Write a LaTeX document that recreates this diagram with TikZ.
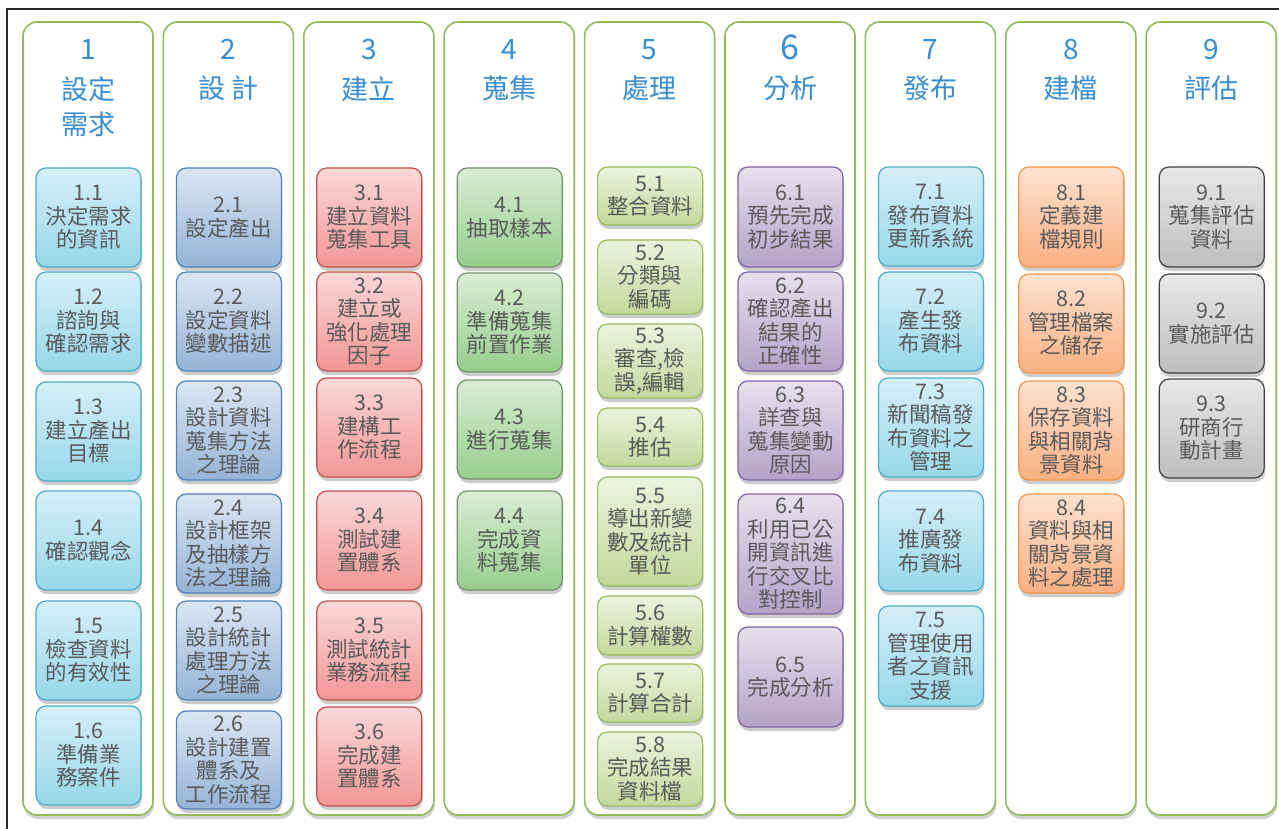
\documentclass[tikz,border=0pt]{standalone}
\usepackage{fontspec}
\setmainfont{Noto Sans CJK TC}
\usetikzlibrary{shadows}
\definecolor{hdr}{RGB}{56,142,208}
\definecolor{txt}{RGB}{90,90,90}
\definecolor{panel}{RGB}{150,184,92}
\definecolor{aquaT}{RGB}{214,239,247}\definecolor{aquaB}{RGB}{150,216,234}\definecolor{aquaD}{RGB}{75,172,198}
\definecolor{blueT}{RGB}{220,230,242}\definecolor{blueB}{RGB}{149,179,215}\definecolor{blueD}{RGB}{79,129,189}
\definecolor{redT}{RGB}{250,216,216}\definecolor{redB}{RGB}{242,150,150}\definecolor{redD}{RGB}{192,80,77}
\definecolor{grnT}{RGB}{218,237,212}\definecolor{grnB}{RGB}{150,206,140}\definecolor{grnD}{RGB}{115,145,105}
\definecolor{limT}{RGB}{236,243,224}\definecolor{limB}{RGB}{195,216,155}\definecolor{limD}{RGB}{155,187,89}
\definecolor{purT}{RGB}{230,225,238}\definecolor{purB}{RGB}{179,162,199}\definecolor{purD}{RGB}{128,100,162}
\definecolor{orgT}{RGB}{253,226,208}\definecolor{orgB}{RGB}{249,176,130}\definecolor{orgD}{RGB}{247,150,70}
\definecolor{gryT}{RGB}{232,232,232}\definecolor{gryB}{RGB}{190,190,190}\definecolor{gryD}{RGB}{64,64,64}
\tikzset{
  colpanel/.style={draw=panel, line width=1.6pt, fill=white, rounded corners=14pt,
    minimum width=130pt, minimum height=793pt, inner sep=0pt,
    drop shadow={shadow xshift=1pt, shadow yshift=-4pt, opacity=0.35}},
  hnum/.style={text=hdr, font=\fontsize{28}{30}\selectfont, anchor=base, inner sep=0pt},
  htitle/.style={text=hdr, font=\fontsize{27}{35}\selectfont, anchor=north, align=center, inner sep=0pt},
  task/.style={rounded corners=10pt, line width=1.2pt, minimum width=105pt, inner sep=0pt,
    align=center, text=txt, font=\fontsize{21.5}{23.5}\selectfont,
    drop shadow={shadow xshift=1pt, shadow yshift=-4pt, opacity=0.4}},
  aqua/.style={task, draw=aquaD, top color=aquaT, bottom color=aquaB},
  bluebox/.style={task, draw=blueD, top color=blueT, bottom color=blueB},
  redbox/.style={task, draw=redD, top color=redT, bottom color=redB},
  grnbox/.style={task, draw=grnD, top color=grnT, bottom color=grnB},
  limbox/.style={task, draw=limD, top color=limT, bottom color=limB},
  purbox/.style={task, draw=purD, top color=purT, bottom color=purB},
  orgbox/.style={task, draw=orgD, top color=orgT, bottom color=orgB},
  grybox/.style={task, draw=gryD, top color=gryT, bottom color=gryB},
}
% style, name, column, top, bottom, text
\newcommand\bx[6]{\node[#1, minimum height={(#5-#4)*1pt}] (#2) at ({23+140.4*(#3-1)+65.5},{(#4+#5)/2}) {#6};}
\newcommand\colp[4]{%
  \node[colpanel] (c#1) at ({23+140.4*(#1-1)+65},418.5) {};
  \node[hnum#4] (n#1) at ({23+140.4*(#1-1)+65},60) {#1};
  \node[htitle] (t#1) at ({23+140.4*(#1-1)+65},#3) {#2};}
\tikzset{hnumbig/.style={hnum, font=\fontsize{34}{36}\selectfont}}
\begin{document}
\begin{tikzpicture}[x=1pt,y=-1pt]
\useasboundingbox (0,0) rectangle (1279,829);
\fill[white] (0,0) rectangle (1279,829);
\draw[line width=1.5pt, black!85] (7,829) -- (7,9) -- (1279,9);

\colp{1}{設定\\需求}{76}{}
\colp{2}{設 計}{76}{}
\colp{3}{建立}{76}{}
\colp{4}{蒐集}{76}{}
\colp{5}{處理}{76}{}
\colp{6}{分析}{76}{big}
\colp{7}{發布}{76}{}
\colp{8}{建檔}{76}{}
\colp{9}{評估}{76}{}

\bx{aqua}{b11}{1}{168}{267}{1.1\\決定需求\\的資訊}
\bx{aqua}{b12}{1}{272}{371}{1.2\\諮詢與\\確認需求}
\bx{aqua}{b13}{1}{382}{481}{1.3\\建立產出\\目標}
\bx{aqua}{b14}{1}{491}{590}{1.4\\確認觀念}
\bx{aqua}{b15}{1}{601}{700}{1.5\\檢查資料\\的有效性}
\bx{aqua}{b16}{1}{706}{805}{1.6\\準備業\\務案件}

\bx{bluebox}{b21}{2}{168}{267}{2.1\\設定產出}
\bx{bluebox}{b22}{2}{272}{371}{2.2\\設定資料\\變數描述}
\bx{bluebox}{b23}{2}{381}{480}{2.3\\設計資料\\蒐集方法\\之理論}
\bx{bluebox}{b24}{2}{494}{593}{2.4\\設計框架\\及抽樣方\\法之理論}
\bx{bluebox}{b25}{2}{601}{700}{2.5\\設計統計\\處理方法\\之理論}
\bx{bluebox}{b26}{2}{711}{809}{2.6\\設計建置\\體系及\\工作流程}

\bx{redbox}{b31}{3}{168}{267}{3.1\\建立資料\\蒐集工具}
\bx{redbox}{b32}{3}{272}{371}{3.2\\建立或\\強化處理\\因子}
\bx{redbox}{b33}{3}{378}{477}{3.3\\建構工\\作流程}
\bx{redbox}{b34}{3}{491}{590}{3.4\\測試建\\置體系}
\bx{redbox}{b35}{3}{601}{700}{3.5\\測試統計\\業務流程}
\bx{redbox}{b36}{3}{707}{806}{3.6\\完成建\\置體系}

\bx{grnbox}{b41}{4}{168}{267}{4.1\\抽取樣本}
\bx{grnbox}{b42}{4}{273}{372}{4.2\\準備蒐集\\前置作業}
\bx{grnbox}{b43}{4}{380}{479}{4.3\\進行蒐集}
\bx{grnbox}{b44}{4}{491}{590}{4.4\\完成資\\料蒐集}

\bx{limbox}{b51}{5}{167}{225}{5.1\\整合資料}
\bx{limbox}{b52}{5}{240}{314}{5.2\\分類與\\編碼}
\bx{limbox}{b53}{5}{324}{398}{5.3\\審查,檢\\誤,編輯}
\bx{limbox}{b54}{5}{408}{466}{5.4\\推估}
\bx{limbox}{b55}{5}{477}{586}{5.5\\導出新變\\數及統計\\單位}
\bx{limbox}{b56}{5}{596}{655}{5.6\\計算權數}
\bx{limbox}{b57}{5}{664}{722}{5.7\\計算合計}
\bx{limbox}{b58}{5}{732}{806}{5.8\\完成結果\\資料檔}

\bx{purbox}{b61}{6}{167}{267}{6.1\\預先完成\\初步結果}
\bx{purbox}{b62}{6}{272}{371}{6.2\\確認產出\\結果的\\正確性}
\bx{purbox}{b63}{6}{381}{480}{6.3\\詳查與\\蒐集變動\\原因}
\bx{purbox}{b64}{6}{494}{614}{6.4\\利用已公\\開資訊進\\行交叉比\\對控制}
\bx{purbox}{b65}{6}{627}{727}{6.5\\完成分析}

\bx{aqua}{b71}{7}{167}{266}{7.1\\發布資料\\更新系統}
\bx{aqua}{b72}{7}{272}{371}{7.2\\產生發\\布資料}
\bx{aqua}{b73}{7}{378}{477}{7.3\\新聞稿發\\布資料之\\管理}
\bx{aqua}{b74}{7}{491}{591}{7.4\\推廣發\\布資料}
\bx{aqua}{b75}{7}{606}{706}{7.5\\管理使用\\者之資訊\\支援}

\bx{orgbox}{b81}{8}{167}{267}{8.1\\定義建\\檔規則}
\bx{orgbox}{b82}{8}{274}{373}{8.2\\管理檔案\\之儲存}
\bx{orgbox}{b83}{8}{381}{480}{8.3\\保存資料\\與相關背\\景資料}
\bx{orgbox}{b84}{8}{494}{593}{8.4\\資料與相\\關背景資\\料之處理}

\bx{grybox}{b91}{9}{167}{267}{9.1\\蒐集評估\\資料}
\bx{grybox}{b92}{9}{274}{373}{9.2\\實施評估}
\bx{grybox}{b93}{9}{379}{478}{9.3\\研商行\\動計畫}
\end{tikzpicture}
\end{document}
